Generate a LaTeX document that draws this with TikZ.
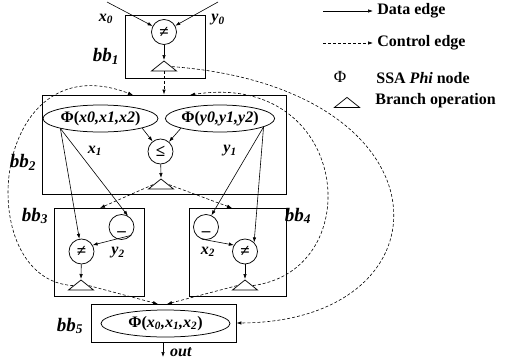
\documentclass[tikz,border=0pt]{standalone}
\usepackage{fontspec}
\setmainfont{Liberation Serif}
\usetikzlibrary{shapes.geometric,arrows.meta}

\tikzset{every picture/.style={line width=0.75pt}}
\tikzset{
  bbox/.style={draw, line width=0.9pt, inner sep=0pt},
  opnode/.style={draw, circle, minimum size=25pt, inner sep=0pt, font=\fontsize{17}{17}\selectfont\bfseries},
  phinode/.style={draw, ellipse, inner sep=0pt, minimum height=27pt, font=\fontsize{16}{16}\selectfont\bfseries},
  brop/.style={draw, isosceles triangle, isosceles triangle stretches, shape border rotate=90, minimum width=25pt, minimum height=10pt, inner sep=0pt},
  lbl/.style={inner sep=0.75pt, font=\fontsize{16}{16}\selectfont\bfseries\itshape},
  bblbl/.style={inner sep=0.75pt, font=\fontsize{19}{19}\selectfont\bfseries\itshape},
  dataedge/.style={-{Latex[length=5pt,width=3.5pt]}, line width=0.6pt},
  ctrledge/.style={-{Latex[length=5pt,width=3.5pt]}, dash pattern=on 3pt off 2pt, line width=0.6pt},
  legtxt/.style={anchor=west, inner sep=0pt, font=\fontsize{16}{16}\selectfont\bfseries}
}

\begin{document}
\begin{tikzpicture}[x=1pt,y=1pt,yscale=-1,xscale=1]
\useasboundingbox (0,0) rectangle (506,362);

% basic blocks
\node [bbox, minimum width=80pt, minimum height=63pt] (bb1) at (165,46.5) {};
\node [bbox, minimum width=244pt, minimum height=99pt] (bb2) at (164,144.5) {};
\node [bbox, minimum width=90pt, minimum height=88pt] (bb3) at (99,252) {};
\node [bbox, minimum width=97pt, minimum height=88pt] (bb4) at (237.5,252) {};
\node [bbox, minimum width=145pt, minimum height=38pt] (bb5) at (163.5,323) {};

\node [bblbl] (bb1lbl) at (106,56) {bb\textsubscript{1}};
\node [bblbl] (bb2lbl) at (23,162) {bb\textsubscript{2}};
\node [bblbl] (bb3lbl) at (35,216) {bb\textsubscript{3}};
\node [bblbl] (bb4lbl) at (298,216) {bb\textsubscript{4}};
\node [bblbl] (bb5lbl) at (70,326) {bb\textsubscript{5}};

% bb1
\coordinate (x0in) at (107,2);
\coordinate (y0in) at (218,2);
\node [lbl] (x0lbl) at (106,19) {x\textsubscript{0}};
\node [lbl] (y0lbl) at (218,20) {y\textsubscript{0}};
\node [opnode] (neq1) at (164,32) {≠};
\node [brop, anchor=apex] (tri1) at (164,60) {};

% bb2
\node [phinode, minimum width=115pt] (phix) at (100.5,118.5) {Φ(\textit{x0,x1,x2})};
\node [phinode, minimum width=106pt] (phiy) at (220,118.5) {Φ(\textit{y0,y1,y2})};
\node [opnode] (le) at (160.5,151.5) {≤};
\node [brop, anchor=apex] (tri2) at (161,178) {};
\node [lbl] (x1lbl) at (95,151) {x\textsubscript{1}};
\node [lbl] (y1lbl) at (230,151) {y\textsubscript{1}};

% bb3
\node [opnode] (mov3) at (121.5,227) {\smash{\raisebox{-3pt}{\_}}};
\node [opnode] (neq3) at (81.5,251.5) {≠};
\node [brop, anchor=apex] (tri3) at (81,279) {};
\node [lbl] (y2lbl) at (118,253) {y\textsubscript{2}};

% bb4
\node [opnode] (mov4) at (206,227) {\smash{\raisebox{-3pt}{\_}}};
\node [opnode] (neq4) at (245,251.5) {≠};
\node [brop, anchor=apex] (tri4) at (245,279) {};
\node [lbl] (x2lbl) at (208,252) {x\textsubscript{2}};

% bb5
\node [phinode, minimum width=129pt] (phi5) at (165.5,323.5) {Φ(\textit{x\textsubscript{0},x\textsubscript{1},x\textsubscript{2}})};
\coordinate (outend) at (163,357);
\node [lbl, anchor=west] (outlbl) at (169,352) {out};

% data edges
\draw [dataedge] (x0in) -- (neq1);
\draw [dataedge] (y0in) -- (neq1);
\draw [dataedge] (neq1) -- (tri1.apex);
\draw [dataedge] (phix.-13) -- (le);
\draw [dataedge] (phiy.194) -- (le);
\draw [dataedge] (le) -- (tri2.apex);
\draw [dataedge] (phix.194) -- (neq3);
\draw [dataedge] (phix.194) -- (mov3.60);
\draw [dataedge] (mov3.-40) -- (neq3.30);
\draw [dataedge] (neq3) -- (tri3.apex);
\draw [dataedge] (phiy.-11) -- (mov4.65);
\draw [dataedge] (phiy.-11) -- (neq4.45);
\draw [dataedge] (mov4.-110) -- (neq4.150);
\draw [dataedge] (neq4) -- (tri4.apex);
\draw [dataedge] (bb5.south -| outend) -- (outend);

% control edges
\coordinate (bb2inL) at (133,95);
\coordinate (bb2inR) at (190,95);
\coordinate (bb3in) at (100,208);
\coordinate (bb4in) at (232,208);
\coordinate (bb5inL) at (158,304);
\coordinate (bb5inR) at (167,304);
\draw [ctrledge] (tri1.south) -- (tri1.south |- bb2.north);
\draw [ctrledge] (tri1.east) .. controls (455,88) and (455,322) .. (bb5.east);
\draw [ctrledge] (tri2.west) -- (bb3in);
\draw [ctrledge] (tri2.east) -- (bb4in);
\draw [ctrledge] (tri3.west) .. controls (-30,280) and (-10,40) .. (bb2inL);
\draw [ctrledge] (tri3.east) -- (bb5inL);
\draw [ctrledge] (tri4.east) .. controls (370,270) and (350,70) .. (bb2inR);
\draw [ctrledge] (tri4.west) -- (bb5inR);

% legend
\node [legtxt] (datatxt) at (377,11) {Data edge};
\node [legtxt] (ctrltxt) at (377,43) {Control edge};
\node [font=\fontsize{17}{17}\selectfont] (phisym) at (340,77) {Φ};
\node [legtxt] (phitxt) at (376,78) {SSA \textit{Phi} node};
\node [brop] (brsym) at (347,103) {};
\node [legtxt] (brtxt) at (375,101) {Branch operation};
\draw [dataedge] ([xshift=-54pt]datatxt.west) -- ([xshift=-4pt]datatxt.west);
\draw [ctrledge] ([xshift=-54pt]ctrltxt.west) -- ([xshift=-4pt]ctrltxt.west);

\end{tikzpicture}
\end{document}
